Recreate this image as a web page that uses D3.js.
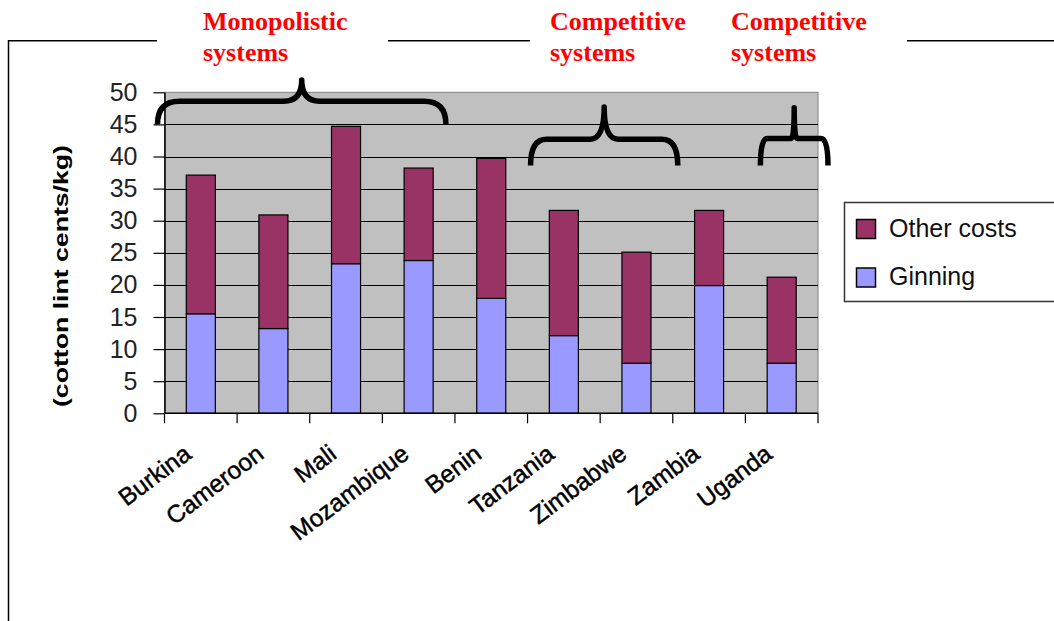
<!DOCTYPE html>
<html>
<head>
<meta charset="utf-8">
<script src="https://cdn.jsdelivr.net/npm/d3@7"></script>
<style>
  body { margin: 0; background: #fff; }
  svg { display: block; }
</style>
</head>
<body>
<div id="chart"></div>
<script>
// data
const countries = ["Burkina", "Cameroon", "Mali", "Mozambique", "Benin", "Tanzania", "Zimbabwe", "Zambia", "Uganda"];
const ginning = [15.5, 13.2, 23.3, 23.8, 17.9, 12.1, 7.8, 19.9, 7.8];
const otherCosts = [21.6, 17.7, 21.4, 14.4, 21.8, 19.5, 17.3, 11.7, 13.4];
const yTicks = [0, 5, 10, 15, 20, 25, 30, 35, 40, 45, 50];
const seriesNames = ["Other costs", "Ginning"];
const COLORS = { "Other costs": "#993366", "Ginning": "#9999ff" };

// brace annotations (first / last country under the brace)
const groups = [
    { label: ["Monopolistic", "systems"], labelX: 203, from: "Burkina", to: "Mozambique", dx0: -7, dx1: -9, yEnd: 45, yBar: 48.6, yTop: 51.9, r: 22, mr: 18 },
    { label: ["Competitive", "systems"], labelX: 550, from: "Tanzania", to: "Zimbabwe", dx0: 3, dx1: 5, yEnd: 38.6, yBar: 42.7, yTop: 47.7, r: 16, mr: 14 },
    { label: ["Competitive", "systems"], labelX: 731, from: "Uganda", to: "Uganda", dx0: 15, dx1: 10, yEnd: 38.6, yBar: 42.8, yTop: 47.6, r: 7, mr: 3 }
];

const WIDTH = 1054, HEIGHT = 621;
const PLOT = { left: 164.5, right: 818, top: 92.3, bottom: 413.3 };
const SANS = "Arial, 'Liberation Sans', sans-serif";
const SERIF = "'Times New Roman', 'Liberation Serif', serif";

const svg = d3.select("#chart").append("svg")
    .attr("width", WIDTH)
    .attr("height", HEIGHT);

const xScale = d3.scaleBand()
    .domain(countries)
    .range([PLOT.left, PLOT.right])
    .padding(0);

const yScale = d3.scaleLinear()
    .domain([0, 50])
    .range([PLOT.bottom, PLOT.top]);

// outer frame: top line broken by the red labels, plus left edge
const frame = svg.append("g").attr("stroke", "#000").attr("stroke-width", 1.5);
[[8.5, 157], [388, 530], [907, WIDTH]].forEach(s => {
    frame.append("line").attr("x1", s[0]).attr("x2", s[1]).attr("y1", 40.7).attr("y2", 40.7);
});
frame.append("line").attr("x1", 8.5).attr("x2", 8.5).attr("y1", 40).attr("y2", HEIGHT);

// plot background
svg.append("rect")
    .attr("x", PLOT.left).attr("y", PLOT.top)
    .attr("width", PLOT.right - PLOT.left)
    .attr("height", PLOT.bottom - PLOT.top)
    .attr("fill", "#c0c0c0")
    .attr("stroke", "#808080")
    .attr("stroke-width", 1);

// gridlines
svg.append("g").selectAll("line")
    .data(yTicks.filter(t => t > 0 && t < 50))
    .enter().append("line")
    .attr("x1", PLOT.left).attr("x2", PLOT.right)
    .attr("y1", d => Math.round(yScale(d)) + 0.5)
    .attr("y2", d => Math.round(yScale(d)) + 0.5)
    .attr("stroke", "#000")
    .attr("stroke-width", 1);

// stacked bars
const stackData = countries.map((c, i) => ({ country: c, "Ginning": ginning[i], "Other costs": otherCosts[i] }));
const stacked = d3.stack().keys(["Ginning", "Other costs"])(stackData);
const barW = xScale.bandwidth() * 0.4;

svg.append("g").selectAll("g")
    .data(stacked)
    .enter().append("g")
    .attr("fill", d => COLORS[d.key])
    .selectAll("rect")
    .data(d => d)
    .enter().append("rect")
    .attr("x", d => xScale(d.data.country) + (xScale.bandwidth() - barW) / 2)
    .attr("y", d => yScale(d[1]))
    .attr("width", barW)
    .attr("height", d => yScale(d[0]) - yScale(d[1]))
    .attr("stroke", "#000")
    .attr("stroke-width", 1.2);

// y axis
const yAxis = svg.append("g")
    .attr("transform", "translate(" + PLOT.left + ",0)")
    .call(d3.axisLeft(yScale).tickValues(yTicks).tickSizeInner(11).tickSizeOuter(0).tickPadding(16));
yAxis.select(".domain").attr("stroke", "#000").attr("stroke-width", 1.5);
yAxis.selectAll(".tick line").attr("stroke", "#000").attr("stroke-width", 1.2);
yAxis.selectAll("text")
    .attr("font-family", SANS)
    .attr("font-size", "25px")
    .attr("fill", "#222");

// x axis line + tick marks at category boundaries
const xg = svg.append("g");
xg.append("line")
    .attr("x1", PLOT.left).attr("x2", PLOT.right)
    .attr("y1", PLOT.bottom).attr("y2", PLOT.bottom)
    .attr("stroke", "#000").attr("stroke-width", 1.5);
xg.selectAll(".xt")
    .data(countries.map(c => xScale(c)).concat([PLOT.right]))
    .enter().append("line")
    .attr("x1", d => d).attr("x2", d => d)
    .attr("y1", PLOT.bottom).attr("y2", PLOT.bottom + 10)
    .attr("stroke", "#000").attr("stroke-width", 1.2);

// rotated category labels
xg.selectAll(".xl")
    .data(countries)
    .enter().append("text")
    .attr("transform", d => "translate(" + (xScale(d) + xScale.bandwidth() / 2 - 8) + ",457) rotate(-37)")
    .attr("text-anchor", "end")
    .attr("font-family", SANS)
    .attr("font-size", "24.5px")
    .attr("fill", "#000")
    .attr("stroke", "#000")
    .attr("stroke-width", 0.45)
    .text(d => d);

// y axis title
svg.append("text")
    .attr("transform", "translate(68,276) rotate(-90)")
    .attr("text-anchor", "middle")
    .attr("font-family", SANS)
    .attr("font-size", "21px")
    .attr("font-weight", "bold")
    .attr("textLength", 262)
    .attr("lengthAdjust", "spacingAndGlyphs")
    .text("(cotton lint cents/kg)");

// legend
const legend = svg.append("g");
legend.append("rect")
    .attr("x", 844.5).attr("y", 202.5)
    .attr("width", 240).attr("height", 99)
    .attr("fill", "#fff")
    .attr("stroke", "#333").attr("stroke-width", 1.5);
seriesNames.forEach((name, i) => {
    legend.append("rect")
        .attr("x", 856.5).attr("y", 219.5 + i * 48.5)
        .attr("width", 19).attr("height", 19)
        .attr("fill", COLORS[name])
        .attr("stroke", "#000").attr("stroke-width", 1.5);
    legend.append("text")
        .attr("x", 889).attr("y", 237 + i * 48)
        .attr("font-family", SANS)
        .attr("font-size", "25px")
        .attr("fill", "#111")
        .text(name);
});

// braces
function bracePath(g) {
    const x0 = xScale(g.from) + g.dx0;
    const x1 = xScale(g.to) + xScale.bandwidth() + g.dx1;
    const xm = (x0 + x1) / 2;
    const yE = yScale(g.yEnd), yB = yScale(g.yBar), yT = yScale(g.yTop);
    const r = g.r, mr = g.mr;
    return "M" + x0 + "," + yE +
        " Q" + x0 + "," + yB + " " + (x0 + r) + "," + yB +
        " L" + (xm - mr) + "," + yB +
        " Q" + xm + "," + yB + " " + xm + "," + yT +
        " Q" + xm + "," + yB + " " + (xm + mr) + "," + yB +
        " L" + (x1 - r) + "," + yB +
        " Q" + x1 + "," + yB + " " + x1 + "," + yE;
}
svg.append("g").selectAll("path")
    .data(groups)
    .enter().append("path")
    .attr("d", bracePath)
    .attr("fill", "none")
    .attr("stroke", "#000")
    .attr("stroke-width", 5.5)
    .attr("stroke-linejoin", "round");

// red group labels
groups.forEach(g => {
    g.label.forEach((line, j) => {
        svg.append("text")
            .attr("x", g.labelX)
            .attr("y", 30 + j * 31)
            .attr("font-family", SERIF)
            .attr("font-weight", "bold")
            .attr("font-size", "26px")
            .attr("fill", "#ff0000")
            .text(line);
    });
});
</script>
</body>
</html>
